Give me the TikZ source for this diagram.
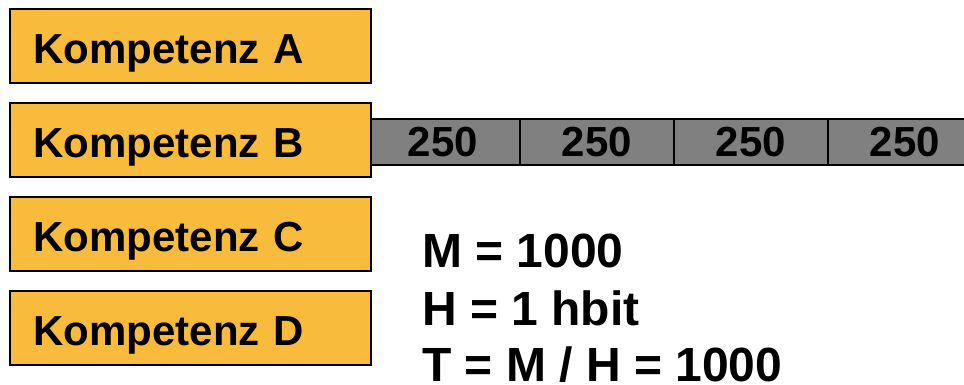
\documentclass[tikz,border=0pt]{standalone}
\usepackage{fontspec}
\setmainfont{Liberation Sans}
\usetikzlibrary{positioning}

\definecolor{kompfill}{HTML}{F9BB3B}
\definecolor{segfill}{HTML}{808080}

\tikzset{
    komp/.style={draw=black, line width=2pt, fill=kompfill, minimum height=74pt,
        text width=313pt, inner xsep=24pt, align=left,
        text height=35pt, text depth=0pt,
        font=\fontsize{42}{48}\selectfont\bfseries},
    seg/.style={draw=black, line width=1.2pt, fill=segfill, minimum width=154pt,
        minimum height=46pt, inner sep=0pt, text height=28pt, text depth=0pt,
        font=\fontsize{42}{48}\selectfont\bfseries},
    formel/.style={anchor=base west, inner sep=0pt, text depth=0pt,
        font=\fontsize{48}{57}\selectfont\bfseries}
}

\begin{document}
\begin{tikzpicture}[x=1pt,y=-1pt,node distance=94pt,on grid]
            \useasboundingbox (0,0) rectangle (964,384);
            % gray bar behind Kompetenz B
            \node[seg] (s_1) at (443,142) {250};
            \node[seg] (s_2) [right=154pt of s_1] {250};
            \node[seg] (s_3) [right=154pt of s_2] {250};
            \node[seg] (s_4) [right=154pt of s_3] {250};
            \node[komp] (k_a) at (190,45.5) {Kompetenz A};
            \node[komp] (k_b) [below=of k_a] {Kompetenz B};
            \node[komp] (k_c) [below=of k_b] {Kompetenz C};
            \node[komp] (k_d) [below=of k_c] {Kompetenz D};
            % \node[komp] (k_e) [below=of k_d] {Kompetenz E};
            \node[formel] (m_val) at (422,267) {M = 1000};
            \node[formel] (h_val) at (422,325) {H = 1 hbit};
            \node[formel] (t_val) at (422,381) {T = M / H = 1000};
        \end{tikzpicture}
\end{document}
